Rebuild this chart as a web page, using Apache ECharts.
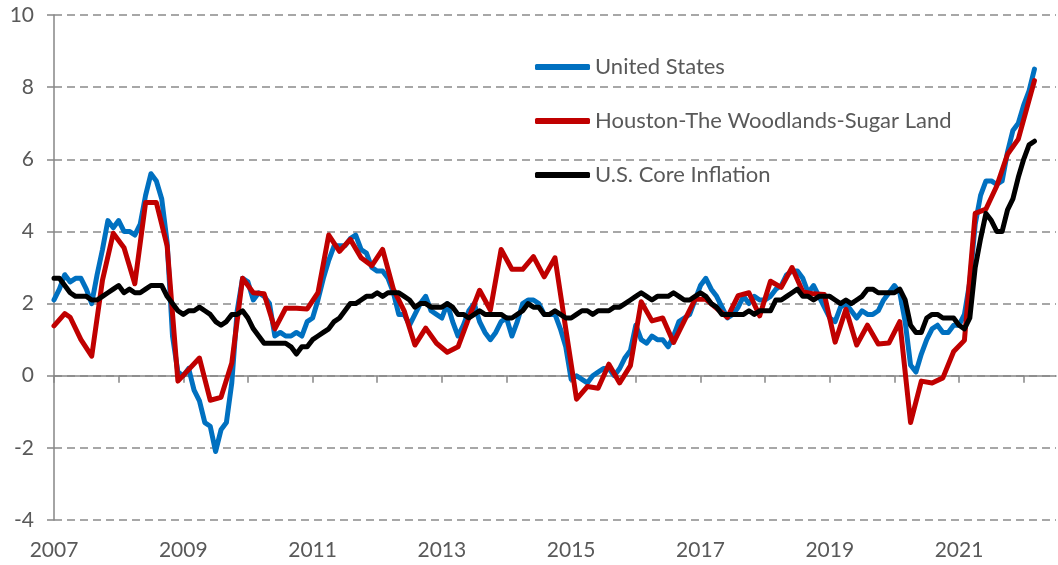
<!DOCTYPE html>
<html>
<head>
<meta charset="utf-8">
<script src="https://cdn.jsdelivr.net/npm/echarts@6/dist/echarts.min.js"></script>
<style>
html,body{margin:0;padding:0;background:#fff;}
#chart{width:1058px;height:565px;}
</style>
</head>
<body>
<div id="chart"></div>
<script>
// Month categories: Jan 2007 .. Jul 2022 (axis extends a little past the data)
var startYear = 2007;
var monthCount = 187;
var categories = [];
for (var k = 0; k < monthCount; k++) {
  var yy = startYear + Math.floor(k / 12);
  var mm = (k % 12) + 1;
  categories.push(yy + '-' + (mm < 10 ? '0' + mm : mm));
}

var seriesNames = ['United States', 'Houston-The Woodlands-Sugar Land', 'U.S. Core Inflation'];

// United States CPI, % y/y, Jan 2007 - Mar 2022
var usCPI = [
  2.1, 2.4, 2.8, 2.6, 2.7, 2.7, 2.4, 2.0, 2.8, 3.5, 4.3, 4.1,
  4.3, 4.0, 4.0, 3.9, 4.2, 5.0, 5.6, 5.4, 4.9, 3.7, 1.1, 0.1,
  0.0, 0.2, -0.4, -0.7, -1.3, -1.4, -2.1, -1.5, -1.3, -0.2, 1.8, 2.7,
  2.6, 2.1, 2.3, 2.2, 2.0, 1.1, 1.2, 1.1, 1.1, 1.2, 1.1, 1.5,
  1.6, 2.1, 2.7, 3.2, 3.6, 3.6, 3.6, 3.8, 3.9, 3.5, 3.4, 3.0,
  2.9, 2.9, 2.7, 2.3, 1.7, 1.7, 1.4, 1.7, 2.0, 2.2, 1.8, 1.7,
  1.6, 2.0, 1.5, 1.1, 1.4, 1.8, 2.0, 1.5, 1.2, 1.0, 1.2, 1.5,
  1.6, 1.1, 1.5, 2.0, 2.1, 2.1, 2.0, 1.7, 1.7, 1.7, 1.3, 0.8,
  -0.1, 0.0, -0.1, -0.2, 0.0, 0.1, 0.2, 0.2, 0.0, 0.2, 0.5, 0.7,
  1.4, 1.0, 0.9, 1.1, 1.0, 1.0, 0.8, 1.1, 1.5, 1.6, 1.7, 2.1,
  2.5, 2.7, 2.4, 2.2, 1.9, 1.6, 1.7, 1.9, 2.2, 2.0, 2.2, 2.1,
  2.1, 2.2, 2.4, 2.5, 2.8, 2.9, 2.9, 2.7, 2.3, 2.5, 2.2, 1.9,
  1.6, 1.5, 1.9, 2.0, 1.8, 1.6, 1.8, 1.7, 1.7, 1.8, 2.1, 2.3,
  2.5, 2.3, 1.5, 0.3, 0.1, 0.6, 1.0, 1.3, 1.4, 1.2, 1.2, 1.4,
  1.4, 1.7, 2.6, 4.2, 5.0, 5.4, 5.4, 5.3, 5.4, 6.2, 6.8, 7.0,
  7.5, 7.9, 8.5
];

// U.S. core CPI, % y/y, Jan 2007 - Mar 2022
var coreCPI = [
  2.7, 2.7, 2.5, 2.3, 2.2, 2.2, 2.2, 2.1, 2.1, 2.2, 2.3, 2.4,
  2.5, 2.3, 2.4, 2.3, 2.3, 2.4, 2.5, 2.5, 2.5, 2.2, 2.0, 1.8,
  1.7, 1.8, 1.8, 1.9, 1.8, 1.7, 1.5, 1.4, 1.5, 1.7, 1.7, 1.8,
  1.6, 1.3, 1.1, 0.9, 0.9, 0.9, 0.9, 0.9, 0.8, 0.6, 0.8, 0.8,
  1.0, 1.1, 1.2, 1.3, 1.5, 1.6, 1.8, 2.0, 2.0, 2.1, 2.2, 2.2,
  2.3, 2.2, 2.3, 2.3, 2.3, 2.2, 2.1, 1.9, 2.0, 2.0, 1.9, 1.9,
  1.9, 2.0, 1.9, 1.7, 1.7, 1.6, 1.7, 1.8, 1.7, 1.7, 1.7, 1.7,
  1.6, 1.6, 1.7, 1.8, 2.0, 1.9, 1.9, 1.7, 1.7, 1.8, 1.7, 1.6,
  1.6, 1.7, 1.8, 1.8, 1.7, 1.8, 1.8, 1.8, 1.9, 1.9, 2.0, 2.1,
  2.2, 2.3, 2.2, 2.1, 2.2, 2.2, 2.2, 2.3, 2.2, 2.1, 2.1, 2.2,
  2.3, 2.2, 2.0, 1.9, 1.7, 1.7, 1.7, 1.7, 1.7, 1.8, 1.7, 1.8,
  1.8, 1.8, 2.1, 2.1, 2.2, 2.3, 2.4, 2.2, 2.2, 2.1, 2.2, 2.2,
  2.2, 2.1, 2.0, 2.1, 2.0, 2.1, 2.2, 2.4, 2.4, 2.3, 2.3, 2.3,
  2.3, 2.4, 2.1, 1.4, 1.2, 1.2, 1.6, 1.7, 1.7, 1.6, 1.6, 1.6,
  1.4, 1.3, 1.6, 3.0, 3.8, 4.5, 4.3, 4.0, 4.0, 4.6, 4.9, 5.5,
  6.0, 6.4, 6.5
];

// Houston-The Woodlands-Sugar Land CPI, % y/y (published every other month)
// pairs: [month index from Jan 2007, value]
var houstonPoints = [
  [0, 1.38], [2, 1.72], [3, 1.62], [5, 1.0], [7, 0.54], [9, 2.65], [11, 3.95],
  [13, 3.55], [15, 2.55], [17, 4.8], [19, 4.8], [21, 3.6], [23, -0.15],
  [27, 0.49], [29, -0.68], [31, -0.6], [33, 0.35], [35, 2.7], [37, 2.3],
  [39, 2.27], [41, 1.3], [43, 1.87], [45, 1.87], [47, 1.85], [49, 2.3],
  [51, 3.9], [53, 3.45], [55, 3.78], [57, 3.27], [59, 3.05], [61, 3.5],
  [63, 2.4], [65, 1.8], [67, 0.85], [69, 1.32], [71, 0.9], [73, 0.65],
  [75, 0.8], [77, 1.6], [79, 2.37], [81, 1.82], [83, 3.5], [85, 2.95],
  [87, 2.95], [89, 3.3], [91, 2.74], [93, 3.27], [95, 1.3], [97, -0.65],
  [99, -0.3], [101, -0.35], [103, 0.32], [105, -0.2], [107, 0.28], [109, 2.05],
  [111, 1.52], [113, 1.6], [115, 0.92], [117, 1.52], [119, 2.12], [121, 2.12],
  [125, 1.62], [127, 2.22], [129, 2.3], [131, 1.66], [133, 2.62], [135, 2.45],
  [137, 3.0], [139, 2.33], [141, 2.27], [143, 2.25], [145, 0.93], [147, 1.84],
  [149, 0.85], [151, 1.4], [153, 0.88], [155, 0.91], [157, 1.5], [159, -1.3],
  [161, -0.15], [163, -0.2], [165, -0.06], [167, 0.67], [169, 0.98],
  [171, 4.5], [173, 4.62], [175, 5.26], [177, 6.14], [179, 6.56], [182, 8.18]
];

var houston = [];
for (var h = 0; h < 183; h++) houston.push(null);
houstonPoints.forEach(function (p) { houston[p[0]] = p[1]; });

var yTicks = { min: -4, max: 10, interval: 2 };

var textColor = '#595959';
var axisGray = '#868686';
var fontFam = 'Lato, "Liberation Sans", sans-serif';

var chart = echarts.init(document.getElementById('chart'), null, { renderer: 'canvas' });

var option = {
  animation: false,
  backgroundColor: '#ffffff',
  textStyle: { fontFamily: fontFam },
  grid: { left: 54, right: 2, top: 15, bottom: 45, containLabel: false },
  legend: {
    orient: 'vertical',
    left: 535,
    top: 55,
    padding: 0,
    itemWidth: 55,
    itemHeight: 6,
    itemGap: 30,
    icon: 'roundRect',
    textStyle: { fontFamily: fontFam, fontSize: 22, color: textColor, lineHeight: 24 },
    data: seriesNames
  },
  xAxis: [
    {
      type: 'category',
      data: categories,
      boundaryGap: false,
      axisLine: { onZero: true, lineStyle: { color: axisGray, width: 1.5 } },
      axisTick: { show: true, length: 7, lineStyle: { color: axisGray, width: 1.5 },
        interval: function (idx) { return idx % 12 === 0; } },
      axisLabel: { show: false },
      splitLine: { show: false }
    },
    {
      type: 'category',
      data: categories,
      boundaryGap: false,
      position: 'bottom',
      axisLine: { show: false, onZero: false },
      axisTick: { show: false },
      axisLabel: {
        show: true,
        margin: 20,
        fontFamily: fontFam,
        fontSize: 21,
        color: textColor,
        interval: function (idx) { return idx % 24 === 0; },
        formatter: function (v) { return v.slice(0, 4); }
      },
      splitLine: { show: false }
    }
  ],
  yAxis: {
    type: 'value',
    min: yTicks.min,
    max: yTicks.max,
    interval: yTicks.interval,
    axisLine: { show: true, lineStyle: { color: axisGray, width: 1.5 } },
    axisTick: { show: true, length: 7, lineStyle: { color: axisGray, width: 1.5 } },
    axisLabel: { margin: 20, fontFamily: fontFam, fontSize: 21, color: textColor },
    splitLine: { show: true, lineStyle: { color: '#8a8a8a', width: 1.5, type: [8, 5] } }
  },
  series: [
    {
      name: seriesNames[0], type: 'line', xAxisIndex: 0, data: usCPI,
      symbol: 'none', color: '#0070C0',
      lineStyle: { width: 5, color: '#0070C0', cap: 'round', join: 'round' }
    },
    {
      name: seriesNames[1], type: 'line', xAxisIndex: 0, data: houston,
      connectNulls: true, symbol: 'none', color: '#C00000',
      lineStyle: { width: 5, color: '#C00000', cap: 'round', join: 'round' }
    },
    {
      name: seriesNames[2], type: 'line', xAxisIndex: 0, data: coreCPI,
      symbol: 'none', color: '#000000',
      lineStyle: { width: 5, color: '#000000', cap: 'round', join: 'round' }
    }
  ]
};
chart.setOption(option);
</script>
</body>
</html>
